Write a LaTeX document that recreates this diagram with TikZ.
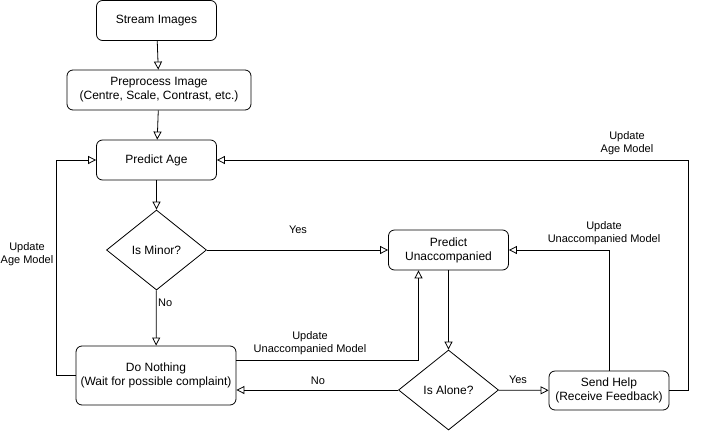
\documentclass[tikz,border=0pt]{standalone}
\usepackage{fontspec}
\setmainfont{Liberation Sans}
\usetikzlibrary{arrows.meta,shapes.geometric}
\tikzset{
  stepbox/.style={
    draw,
    rounded corners=6pt,
    line width=0.8pt,
    align=center,
    minimum width=120pt,
    minimum height=40pt,
    inner sep=2pt,
    font=\fontsize{12}{14}\selectfont
  },
  decision/.style={
    draw,
    diamond,
    aspect=1.25,
    line width=0.8pt,
    minimum width=100pt,
    minimum height=80pt,
    inner sep=0pt,
    font=\fontsize{12}{14}\selectfont
  },
  flowarrow/.style={
    -{Triangle[open,length=8pt,width=8pt]},
    line width=0.8pt
  },
  flowlabel/.style={
    align=center,
    inner sep=0pt,
    font=\fontsize{11}{13.5}\selectfont
  }
}

\begin{document}
\begin{tikzpicture}[x=1pt, y=-1pt]
    \useasboundingbox (0,0) rectangle (701,431);

    \node[stepbox] (stream) at (156.5,20.5) {Stream Images};
    \node[stepbox, minimum width=184pt] (preproc) at (159,90) {Preprocess Image\\(Centre, Scale, Contrast, etc.)};
    \node[stepbox] (predage) at (156.5,160) {Predict Age};
    \node[decision] (isminor) at (156.5,250) {Is Minor?};
    \node[stepbox, minimum width=160pt, minimum height=59pt] (donothing) at (156,375.5) {Do Nothing\\(Wait for possible complaint)};
    \node[stepbox] (predunacc) at (448.5,250) {Predict\\Unaccompanied};
    \node[decision] (isalone) at (448.5,390) {Is Alone?};
    \node[stepbox, minimum height=39pt] (sendhelp) at (609,390.5) {Send Help\\(Receive Feedback)};

    \draw[flowarrow] (stream) -- (preproc);
    \draw[flowarrow] (preproc) -- (predage);
    \draw[flowarrow] (predage) -- (isminor);
    \draw[flowarrow] (isminor) -- (donothing);
    \draw[flowarrow] (isminor) -- (predunacc);
    \draw[flowarrow] (predunacc) -- (isalone);
    \draw[flowarrow] (isalone) -- (sendhelp);
    \draw[flowarrow] (isalone.west) -- (isalone.west -| donothing.east);
    \draw[flowarrow] ([yshift=15pt]donothing.east) -| ([xshift=-30pt]predunacc.south);
    \draw[flowarrow] (donothing.west) -- ++(-19,0) |- (predage.west);
    \draw[flowarrow] (sendhelp.north) |- (predunacc.east);
    \draw[flowarrow] (sendhelp.east) -- ++(19,0) |- (predage.east);

    \node[flowlabel] (lblyes1) at (298,230) {Yes};
    \node[flowlabel, anchor=west] (lblno1) at (158,303) {No};
    \node[flowlabel] (lblyes2) at (518,380) {Yes};
    \node[flowlabel] (lblno2) at (318,381) {No};
    \node[flowlabel] (lblupd1) at (310,343) {Update\\Unaccompanied Model};
    \node[flowlabel] (lblupd2) at (604,233) {Update\\Unaccompanied Model};
    \node[flowlabel] (lblage1) at (27,254) {Update\\Age Model};
    \node[flowlabel] (lblage2) at (627,143) {Update\\Age Model};
\end{tikzpicture}
\end{document}
